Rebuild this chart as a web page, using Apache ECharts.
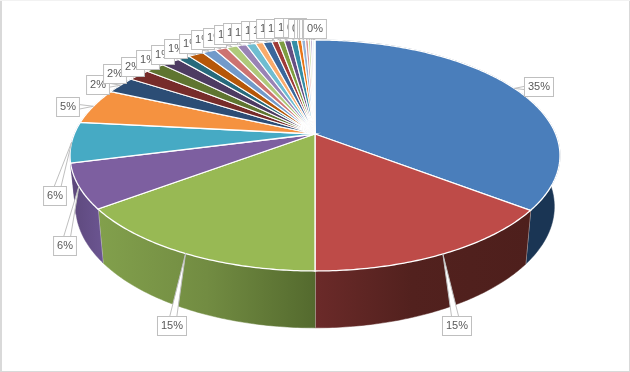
<!DOCTYPE html>
<html>
<head>
<meta charset="utf-8">
<style>html,body{margin:0;padding:0;background:#fff}#chart{width:630px;height:372px}</style>
<script src="https://cdn.jsdelivr.net/npm/echarts@6/dist/echarts.min.js"></script>
</head>
<body>
<div id="chart"></div>
<script>
// ---- data: percentage of each slice, clockwise from 12 o'clock
var majorValues = [35.4, 14.6, 14.8, 6.2, 5.7, 5];
var darkValues  = [2.4, 1.7, 1.55, 1.45, 0.95, 1.2];
var lightValues = [1.05, 0.95, 0.85, 0.75, 0.75, 0.6];
var midValues   = [0.7, 0.5, 0.5, 0.5, 0.52, 0.33];
var paleValues  = [0.3, 0.22, 0.18, 0.15, 0.12, 0.08];
var values = majorValues.concat(darkValues, lightValues, midValues, paleValues);

// ---- styles
var palette = [
  '#4A7EBB','#BE4B48','#98B954','#7D5FA0','#46AAC4','#F59240',
  '#2C4D75','#772C2A','#5F7530','#4D3B62','#276A7C','#B65708',
  '#729ACA','#CD7371','#AFC97A','#9983B5','#6FBDD1','#F9AB6B',
  '#3A679C','#9F3B38','#7E9D40','#664F83','#358EA6','#E97416',
  '#95B3D7','#D99694','#C3D69B','#B2A2C7','#93CDDD','#FAC090'
];
var sideStops = [
  [[0, '#1a3554'], [1, '#1a3554']],
  [[0, '#6b2a29'], [0.45, '#52211e'], [1, '#4e1f1c']],
  [[0, '#82a04c'], [0.5, '#728c42'], [1, '#546a2e']],
  [[0, '#5d487c'], [1, '#6b5591']],
  [[0, '#5d487c'], [1, '#5d487c']],
  [[0, '#b86f2e'], [1, '#b86f2e']]
];
// label centre relative to the slice's rim point
var labelShift = [
  [25,-1],[14,72],[-14,72],[-14,60],[-17,54],[-25,1],
  [-23,0],[-24,-1],[-22,-1],[-23,-2],[-21,-3],[-20,-6],
  [-18,-7],[-18,-9],[-17,-9],[-16,-10],[-16,-11],[-16,-10],
  [-14,-11],[-14,-11],[-13,-12],[-12,-12],[-8,-12],[-5,-12],
  [-4,-11],[-1,-11],[0,-11],[0,-11],[1,-11],[1,-11]
];

// ---- projection of the tilted disc (perspective)
var cx = 315, cy = 134, B = 240.7, A = 111.5, K = 0.186;
var total = values.reduce(function (a, b) { return a + b; }, 0);
var cum = [0];
values.forEach(function (v, i) { cum.push(cum[i] + v); });

function topPoint(angle) {
  var u = Math.sin(angle), v = -Math.cos(angle), w = 1 - K * v;
  return [cx + B * u / w, cy + A * v / w];
}
function bottomPoint(angle) {
  var p = topPoint(angle);
  return [cx + (p[0] - cx) * 0.977, cy + (p[1] - cy) * 1.05 + 50];
}
function ang(p) { return p / total * Math.PI * 2; }
function arc(fn, a0, a1) {
  var n = Math.max(2, Math.ceil(Math.abs(a1 - a0) / 0.012)), pts = [];
  for (var i = 0; i <= n; i++) pts.push(fn(a0 + (a1 - a0) * i / n));
  return pts;
}

var seriesData = values.map(function (v, i) { return [i, v]; });

function renderSide(params, api) {
  var i = api.value(0), a0 = ang(cum[i]), a1 = ang(cum[i + 1]);
  var top = arc(topPoint, a0, a1), bot = arc(bottomPoint, a1, a0);
  var pts = top.concat(bot);
  var xs = pts.map(function (p) { return p[0]; });
  var x0 = Math.min.apply(null, xs), x1 = Math.max.apply(null, xs);
  var stops = sideStops[i] || [[0, palette[i]], [1, palette[i]]];
  var grad = new echarts.graphic.LinearGradient(x0, 0, x1, 0,
    stops.map(function (s) { return { offset: s[0], color: s[1] }; }), true);
  var seam = bottomPoint(a1), seamTop = topPoint(a1);
  return { type: 'group', children: [
    { type: 'polygon', shape: { points: pts }, style: { fill: grad, stroke: grad, lineWidth: 0.5 } },
    { type: 'line', shape: { x1: seamTop[0], y1: seamTop[1], x2: seam[0], y2: seam[1] },
      invisible: i > 2, style: { stroke: '#e4e4e4', lineWidth: 1.2 } }
  ]};
}
function renderTop(params, api) {
  var i = api.value(0), a0 = ang(cum[i]), a1 = ang(cum[i + 1]);
  var pts = [[cx, cy]].concat(arc(topPoint, a0, a1));
  return { type: 'polygon', shape: { points: pts },
    style: { fill: palette[i], stroke: '#ffffff', lineWidth: i < 6 ? 1.3 : 1.1 } };
}
function renderLabel(params, api) {
  var i = api.value(0), mid = ang(cum[i] + values[i] / 2);
  var tip = topPoint(mid), s = labelShift[i];
  var c = [tip[0] + s[0], tip[1] + s[1]];
  var dx = c[0] - tip[0], dy = c[1] - tip[1], len = Math.sqrt(dx * dx + dy * dy) || 1;
  var nx = -dy / len * 4, ny = dx / len * 4;
  return { type: 'group', children: [
    { type: 'polygon', shape: { points: [tip, [c[0] + nx, c[1] + ny], [c[0] - nx, c[1] - ny]] },
      style: { fill: '#ffffff', stroke: '#bfbfbf', lineWidth: 1 } },
    { type: 'text', x: Math.round(c[0]), y: Math.round(c[1]), style: {
        text: Math.round(values[i]) + '%', align: 'center', verticalAlign: 'middle',
        fill: '#595959', font: '11px "Liberation Sans", sans-serif',
        backgroundColor: '#ffffff', borderColor: '#bfbfbf', borderWidth: 1,
        padding: [4, 3, 3, 3] } }
  ]};
}

function frameEdge(x, y, w, h, color) {
  return { type: 'rect', silent: true, z: 0, shape: { x: x, y: y, width: w, height: h }, style: { fill: color } };
}
var chart = echarts.init(document.getElementById('chart'), null, { renderer: 'canvas' });
chart.setOption({
  animation: false,
  backgroundColor: '#ffffff',
  graphic: [
    frameEdge(0, 0, 2, 372, '#d9d9d9'),
    frameEdge(629, 0, 1, 372, '#d9d9d9'),
    frameEdge(0, 371, 630, 1, '#d9d9d9'),
    frameEdge(0, 0, 630, 1, '#f2f2f2')
  ],
  series: [
    { type: 'custom', coordinateSystem: 'none', z: 2, silent: true, renderItem: renderSide, data: seriesData },
    { type: 'custom', coordinateSystem: 'none', z: 3, silent: true, renderItem: renderTop, data: seriesData },
    { type: 'custom', coordinateSystem: 'none', z: 4, silent: true, renderItem: renderLabel, data: seriesData }
  ]
});
</script>
</body>
</html>
